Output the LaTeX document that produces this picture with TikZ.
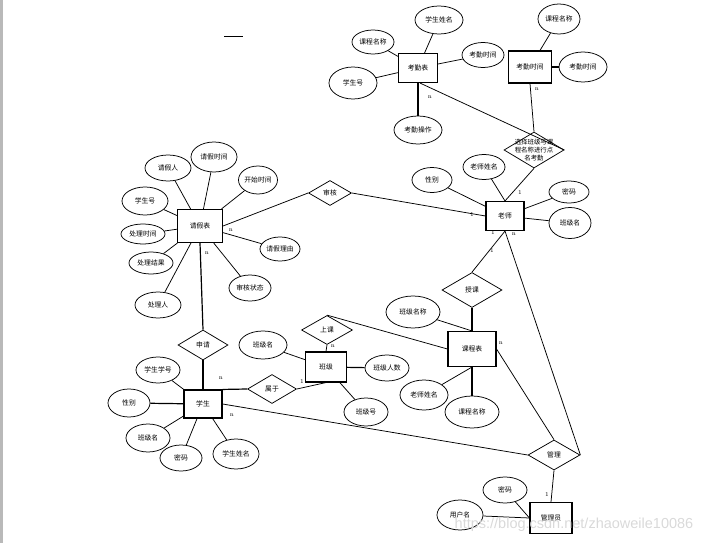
\documentclass[tikz,border=0pt]{standalone}
\usepackage{fontspec}
\newfontfamily\cjk{Noto Sans CJK SC}
\usetikzlibrary{positioning, shapes}

\tikzset{
  ent/.style={draw, line width=1.1pt, inner sep=0pt, font=\cjk\fontsize{6.8}{8}\selectfont},
  attr/.style={draw, ellipse, line width=0.75pt, inner sep=0pt, font=\cjk\fontsize{6.8}{8}\selectfont},
  rel/.style={draw, diamond, line width=0.75pt, inner sep=0pt, font=\cjk\fontsize{6.8}{8}\selectfont},
  card/.style={inner sep=0pt, font=\fontsize{6}{7}\selectfont},
  link/.style={line width=0.75pt},
  thick link/.style={line width=1.2pt}
}

\begin{document}
\begin{tikzpicture}[x=1pt, y=-1pt]
      \useasboundingbox (0,0) rectangle (713,543);
      \fill[gray!55] (0,0) rectangle (3,543);
      \coordinate (m1) at (224,36);
      \coordinate (m2) at (243,36);
      \draw[line width=0.9pt] (m1) -- (m2);

      % attendance
      \node[ent, minimum width=39, minimum height=29] (kqb) at (418,68) {考勤表};
      \node[attr, minimum width=48, minimum height=28] (kqbxm) at (439,20) {学生姓名};
      \node[attr, minimum width=42, minimum height=24] (kqbkc) at (373,42) {课程名称};
      \node[attr, minimum width=48, minimum height=32] (kqbxh) at (353,83) {学生号};
      \node[attr, minimum width=42, minimum height=25] (kqbsj) at (483,55) {考勤时间};
      \node[attr, minimum width=48, minimum height=28] (kqbcz) at (418,130) {考勤操作};
      \node[ent, minimum width=43, minimum height=32] (kqsj) at (530,67) {考勤时间};
      \node[attr, minimum width=42, minimum height=30] (kqsjkc) at (559,19) {课程名称};
      \node[attr, minimum width=48, minimum height=30] (kqsjsj) at (583,67) {考勤时间};
      \node[rel, minimum width=60, minimum height=36] (dmkq) at (534,150) {};
      \node[align=center, inner sep=0pt, font=\cjk\fontsize{6.4}{8.3}\selectfont] (dmkqt) at (534,150) {选择班级与课\\程名称进行点\\名考勤};

      % teacher
      \node[ent, minimum width=38, minimum height=29] (ls) at (505,216) {老师};
      \node[attr, minimum width=40, minimum height=25] (lsxb) at (432,180) {性别};
      \node[attr, minimum width=42, minimum height=25] (lsxm) at (484,167) {老师姓名};
      \node[attr, minimum width=40, minimum height=22] (lsmm) at (569,192) {密码};
      \node[attr, minimum width=42, minimum height=31] (lsbj) at (570,223) {班级名};
      \node[rel, minimum width=43, minimum height=25] (sh) at (330,193) {审核};

      % leave
      \node[ent, minimum width=45, minimum height=33] (qjb) at (200,226) {请假表};
      \node[attr, minimum width=46, minimum height=26] (qjr) at (168,168) {请假人};
      \node[attr, minimum width=46, minimum height=30] (qjsj) at (214,157) {请假时间};
      \node[attr, minimum width=39, minimum height=28] (kssj) at (258,180) {开始时间};
      \node[attr, minimum width=46, minimum height=28] (qjxh) at (145,201) {学生号};
      \node[attr, minimum width=44, minimum height=20] (clsj) at (143,234) {处理时间};
      \node[attr, minimum width=44, minimum height=22] (cljg) at (151,263) {处理结果};
      \node[attr, minimum width=46, minimum height=26] (clr) at (158,305) {处理人};
      \node[attr, minimum width=40, minimum height=24] (qjly) at (280,249) {请假理由};
      \node[attr, minimum width=42, minimum height=26] (shzt) at (250,288) {审核状态};
      \node[rel, minimum width=50, minimum height=30] (sq) at (203,345) {申请};

      % student
      \node[ent, minimum width=38, minimum height=28] (xs) at (203,404) {学生};
      \node[attr, minimum width=44, minimum height=26] (xsxh) at (158,370) {学生学号};
      \node[attr, minimum width=42, minimum height=28] (xsxb) at (129,403) {性别};
      \node[attr, minimum width=44, minimum height=28] (xsbj) at (148,438) {班级名};
      \node[attr, minimum width=42, minimum height=26] (xsmm) at (181,458) {密码};
      \node[attr, minimum width=46, minimum height=30] (xsxm) at (236,454) {学生姓名};
      \node[rel, minimum width=49, minimum height=29] (sy) at (272,389) {属于};

      % class
      \node[ent, minimum width=41, minimum height=30] (bj) at (326,367) {班级};
      \node[rel, minimum width=51, minimum height=29] (skc) at (327,330) {上课};
      \node[attr, minimum width=48, minimum height=28] (bjm) at (263,345) {班级名};
      \node[attr, minimum width=44, minimum height=26] (bjrs) at (387,368) {班级人数};
      \node[attr, minimum width=44, minimum height=28] (bjh) at (366,412) {班级号};

      % course
      \node[ent, minimum width=48, minimum height=35] (kcb) at (472,349) {课程表};
      \node[rel, minimum width=60, minimum height=35] (sk) at (472,290) {授课};
      \node[attr, minimum width=54, minimum height=32] (kcbj) at (413,312) {班级名称};
      \node[attr, minimum width=48, minimum height=30] (kcls) at (424,395) {老师姓名};
      \node[attr, minimum width=54, minimum height=32] (kcmc) at (472,412) {课程名称};

      % admin
      \node[rel, minimum width=52, minimum height=30] (gl) at (554,455) {管理};
      \node[ent, minimum width=42, minimum height=31] (gly) at (551,518) {管理员};
      \node[attr, minimum width=44, minimum height=26] (glymm) at (505,490) {密码};
      \node[attr, minimum width=46, minimum height=30] (glyyh) at (460,515) {用户名};

      \draw[link] (kqb) -- (kqbxm);
      \draw[link] (kqb) -- (kqbkc);
      \draw[link] (kqb) -- (kqbxh);
      \draw[link] (kqb) -- (kqbsj);
      \draw[thick link] (kqb.south) -- (kqbcz);
      \draw[link] ([xshift=2pt]kqb.south) -- (dmkq.east);
      \draw[link] (kqsj) -- (kqsjkc);
      \draw[thick link] (kqsj) -- (kqsjsj);
      \draw[link] (kqsj.south) -- (dmkq.north);
      \draw[link] (dmkq.south) -- (ls.north);

      \draw[link] (ls) -- (lsxb);
      \draw[link] (ls.north) -- (lsxm);
      \draw[link] (ls) -- (lsmm);
      \draw[link] (ls) -- (lsbj);
      \draw[link] (sh.east) -- (ls.west);
      \draw[link] (ls.south) -- (sk.north);
      \draw[link] (ls.south) -- (gl.east);

      \draw[link] (qjb) -- (qjr);
      \draw[link] (qjb) -- (qjsj);
      \draw[link] (qjb) -- (kssj);
      \draw[link] (qjb) -- (qjxh);
      \draw[link] (qjb) -- (clsj);
      \draw[link] (qjb) -- (cljg);
      \draw[link] (qjb) -- (clr);
      \draw[link] (qjb) -- (qjly);
      \draw[link] (qjb) -- (shzt);
      \draw[link] (qjb.east) -- (sh.west);
      \draw[thick link] (qjb.south) -- (sq.north);
      \draw[thick link] (sq.south) -- (xs.north);

      \draw[link] (xs) -- (xsxh);
      \draw[thick link] (xs) -- (xsxb);
      \draw[link] (xs) -- (xsbj);
      \draw[link] (xs) -- (xsmm);
      \draw[link] (xs) -- (xsxm);
      \draw[thick link] (xs.north east) -- (sy.west);
      \draw[link] (xs.east) -- (gl.west);
      \draw[link] (sy.east) -- (bj.south);

      \draw[link] (skc.south) -- (bj.north);
      \draw[link] (skc.north) -- (kcb.west);
      \draw[link] (bj) -- (bjm);
      \draw[thick link] (bj) -- (bjrs);
      \draw[link] (bj) -- (bjh);

      \draw[thick link] (sk.south) -- (kcb.north);
      \draw[link] (kcbj) -- (kcb.north);
      \draw[link] (kcb.south) -- (kcls);
      \draw[thick link] (kcb.south) -- (kcmc);
      \draw[link] (kcb.east) -- (gl.north);

      \draw[link] (gl.south) -- (gly.north);
      \draw[link] (glymm) -- (gly.west);
      \draw[link] (glyyh) -- (gly.west);

      \node[card] (c1) at (430,97) {n};
      \node[card] (c2) at (537,89) {n};
      \node[card] (c3) at (520,193) {1};
      \node[card] (c4) at (472,215) {1};
      \node[card] (c5) at (493,233) {1};
      \node[card] (c6) at (514,234) {n};
      \node[card] (c7) at (492,251) {1};
      \node[card] (c8) at (231,230) {n};
      \node[card] (c9) at (207,253) {n};
      \node[card] (c10) at (221,378) {n};
      \node[card] (c11) at (232,415) {n};
      \node[card] (c12) at (302,382) {1};
      \node[card] (c13) at (333,346) {n};
      \node[card] (c14) at (501,343) {n};
      \node[card] (c15) at (547,495) {1};

      \node[text=gray!30, font=\fontspec{Liberation Sans}\fontsize{14.5}{16}\selectfont, inner sep=0pt] (wm) at (574,525) {https://blog.csdn.net/zhaoweile10086};
    \end{tikzpicture}
\end{document}
